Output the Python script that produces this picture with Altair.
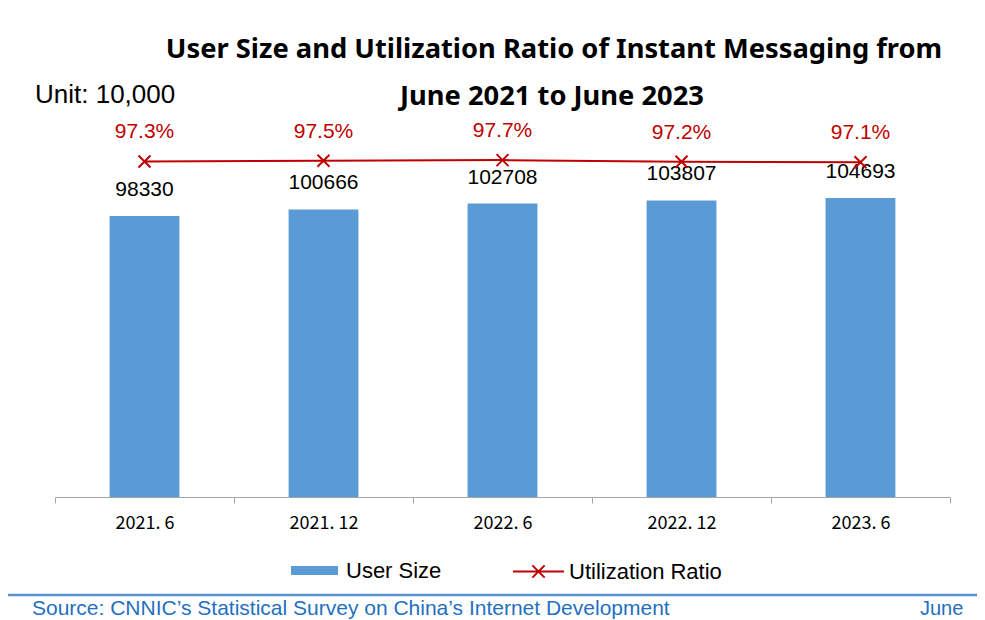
import altair as alt
import pandas as pd

periods = ["2021. 6", "2021. 12", "2022. 6", "2022. 12", "2023. 6"]
user_size = [98330, 100666, 102708, 103807, 104693]
util_ratio = [97.3, 97.5, 97.7, 97.2, 97.1]
ratio_labels = ["97.3%", "97.5%", "97.7%", "97.2%", "97.1%"]

title_line1 = "User Size and Utilization Ratio of Instant Messaging from"
title_line2 = "June 2021 to June 2023"
unit_text = "Unit: 10,000"
source_text = "Source: CNNIC\u2019s Statistical Survey on China\u2019s Internet Development"
date_text = "June"
series_bar = "User Size"
series_line = "Utilization Ratio"

BLUE = "#5B9BD5"
RED = "#C00000"
SRC_BLUE = "#1F70C1"
FONT = "Liberation Sans"

df = pd.DataFrame({
    "period": periods,
    "users": user_size,
    "ratio": util_ratio,
    "ratio_label": ratio_labels,
    "s1": series_bar,
    "s2": series_line,
})

W, H = 895, 400

x_enc = alt.X(
    "period:N", sort=periods,
    scale=alt.Scale(paddingInner=0, paddingOuter=0),
    axis=alt.Axis(title=None, labelAngle=0, labelFont="Noto Sans CJK SC", labelFontSize=18,
                  labelColor="#000000", labelBaseline="middle", labelPadding=20,
                  domainColor="#A6A6A6", tickColor="#A6A6A6", tickSize=6, tickBand="extent",
                  grid=False),
)
y_users = alt.Y("users:Q", scale=alt.Scale(domain=[0, 140000]), axis=None)
y_ratio = alt.Y("ratio:Q", scale=alt.Scale(domain=[0, 116]), axis=None)

base = alt.Chart(df)

bars = base.mark_bar(width=alt.RelativeBandSize(0.39)).encode(
    x=x_enc, y=y_users,
    fill=alt.Fill("s1:N", scale=alt.Scale(range=[BLUE]),
                  legend=alt.Legend(title=None, orient="none", legendX=236, legendY=450,
                                    symbolType="M-1,-0.19H1V0.19H-1Z", symbolSize=2209,
                                    symbolStrokeWidth=0, labelFont=FONT, labelFontSize=22,
                                    labelColor="#000000", labelOffset=8, padding=0)),
)
bar_labels = base.mark_text(dy=-26, fontSize=21, font=FONT, baseline="middle", color="#000000").encode(
    x=x_enc, y=y_users, text=alt.Text("users:Q", format="d"),
)
bar_group = alt.layer(bars, bar_labels)

line = base.mark_line(strokeWidth=2).encode(
    x=x_enc, y=y_ratio,
    stroke=alt.Stroke("s2:N", scale=alt.Scale(range=[RED]),
                      legend=alt.Legend(title=None, orient="none", legendX=457, legendY=448,
                                        symbolType="M-1,0H1M-0.24,-0.24L0.24,0.24M-0.24,0.24L0.24,-0.24",
                                        symbolSize=2601, symbolStrokeWidth=2,
                                        symbolFillColor="transparent",
                                        labelFont=FONT, labelFontSize=22,
                                        labelColor="#000000", labelOffset=4, padding=0)),
)
points = base.mark_point(shape="M-1,-1L1,1M-1,1L1,-1", size=144, strokeWidth=2,
                         color=RED, filled=False, opacity=1).encode(x=x_enc, y=y_ratio)
ratio_text = base.mark_text(dy=-29, fontSize=21, font=FONT, baseline="middle", color=RED).encode(
    x=x_enc, y=y_ratio, text="ratio_label:N",
)
line_group = alt.layer(line, points, ratio_text)


def note(text, xp, yp, **kw):
    return alt.Chart(alt.InlineData(values=[{"t": text}])).mark_text(**kw).encode(
        x=alt.value(xp), y=alt.value(yp), text="t:N")


title1 = note(title_line1, 499, -47, font="Noto Sans", fontWeight="bold", fontSize=27.3,
              align="center", baseline="middle", color="#000000")
title2 = note(title_line2, 497, 0, font="Noto Sans", fontWeight="bold", fontSize=27.3,
              align="center", baseline="middle", color="#000000")
unit = note(unit_text, -20, -2, font=FONT, fontSize=26, align="left", baseline="middle", color="#000000")
source = note(source_text, -23, 512, font=FONT, fontSize=21, align="left", baseline="middle", color=SRC_BLUE)
date = note(date_text, 865, 512, font=FONT, fontSize=20, align="left", baseline="middle", color=SRC_BLUE)
sep = alt.Chart(alt.InlineData(values=[{"t": 1}])).mark_rule(color="#5A90D0", strokeWidth=2.5).encode(
    x=alt.value(-55), x2=alt.value(930), y=alt.value(498))

chart = alt.layer(bar_group, line_group, title1, title2, unit, source, date, sep).resolve_scale(
    y="independent"
).properties(
    width=W, height=H,
    padding={"left": 47, "top": 89, "right": 27, "bottom": 123},
    autosize=alt.AutoSizeParams(type="none"),
).configure_view(stroke=None)

chart.save("out.html", embed_options={"renderer": "svg", "actions": False})
